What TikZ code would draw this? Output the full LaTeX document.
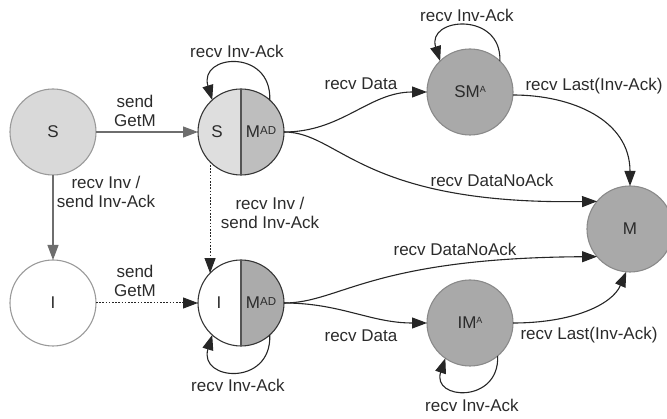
\documentclass[tikz,border=0pt]{standalone}
\usepackage{fontspec}
\setmainfont{Liberation Sans}
\usetikzlibrary{arrows.meta}
\definecolor{txt}{HTML}{2B2B2B}
\definecolor{sfill}{HTML}{D9D9D9}
\definecolor{lgb}{HTML}{9A9A9A}
\definecolor{smadl}{HTML}{DEDEDE}
\definecolor{smadr}{HTML}{BEBEBE}
\definecolor{imadr}{HTML}{ABABAB}
\definecolor{dk}{HTML}{363636}
\definecolor{gfill}{HTML}{A9A9A9}
\definecolor{gb}{HTML}{8A8A8A}
\definecolor{gline}{HTML}{6E6E6E}
\newcommand\supAD{\raisebox{3.5pt}{\fontsize{11.5}{12}\selectfont AD}}
\newcommand\supA{\raisebox{5pt}{\fontsize{9}{10}\selectfont A}}
\begin{document}
\begin{tikzpicture}[x=1pt,y=1pt,
  font=\fontsize{17}{19}\selectfont,
  st/.style={circle, minimum size=86pt, inner sep=0pt, outer sep=0pt, line width=1.1pt, text=txt},
  lbl/.style={text=txt, align=center, inner sep=0pt},
  arr/.style={-{Triangle[length=15pt,width=11pt]}, line width=1.1pt, draw=black!85},
  dot/.style={dash pattern=on 1.6pt off 1.6pt, line width=1pt}
  ]
\useasboundingbox (0,0) rectangle (667,-419);
% simple states
\node[st, draw=lgb, fill=sfill] (s) at (53,-132) {S};
\node[st, draw=lgb, fill=white] (i) at (53,-303) {I};
\node[st, draw=gb, fill=gfill] (sma) at (470,-92) {SM\supA};
\node[st, draw=gb, fill=gfill] (ima) at (470,-323) {IM\supA};
\node[st, draw=gb, fill=gfill] (m) at (630,-229) {M};
% split state S M^AD
\node[st] (smad) at (241,-132) {};
\begin{scope}
  \clip (smad.center) ++(-45,-45) rectangle ++(45,90);
  \fill[smadl] (smad.center) circle[radius=43];
\end{scope}
\begin{scope}
  \clip (smad.center) ++(0,-45) rectangle ++(45,90);
  \fill[smadr] (smad.center) circle[radius=43];
\end{scope}
\draw[dk, line width=1.1pt] (smad.center) circle[radius=43];
\draw[dk!85, line width=1.1pt] (smad.north) -- (smad.south);
\node[lbl] (smadS) at (217,-132) {S};
\node[lbl] (smadM) at (261,-132) {M\supAD};
% split state I M^AD
\node[st] (imad) at (241,-303) {};
\begin{scope}
  \clip (imad.center) ++(-45,-45) rectangle ++(45,90);
  \fill[white] (imad.center) circle[radius=43];
\end{scope}
\begin{scope}
  \clip (imad.center) ++(0,-45) rectangle ++(45,90);
  \fill[imadr] (imad.center) circle[radius=43];
\end{scope}
\draw[dk, line width=1.1pt] (imad.center) circle[radius=43];
\draw[dk!85, line width=1.1pt] (imad.north) -- (imad.south);
\node[lbl] (imadI) at (219,-303) {I};
\node[lbl] (imadM) at (261,-303) {M\supAD};
% straight transitions
\draw[arr, draw=gline] (s) -- (smad);
\draw[arr, draw=gline] (s) -- (i);
\draw[arr, dot] (i) -- (imad);
\draw[arr, dot] (smad.224) -- (imad.136);
% self loops
\draw[arr] (smad.48) .. controls +(2,52) and +(-14,46) .. (smad.132);
\draw[arr] (imad.-48) .. controls +(2,-52) and +(-14,-46) .. (imad.-132);
\draw[arr] (sma.46) .. controls +(2,50) and +(-14,44) .. (sma.134);
\draw[arr] (ima.-50) .. controls +(2,-48) and +(-14,-42) .. (ima.-125);
% curved transitions
\draw[arr] (smad.east) to[out=0,in=180] (sma.west);
\draw[arr] (smad.east) .. controls (340,-132) and (360,-205) .. (m.140);
\draw[arr] (sma.-4) .. controls (572,-95) and (630,-120) .. (m.north);
\draw[arr] (imad.east) .. controls (340,-303) and (370,-258) .. (m.220);
\draw[arr] (imad.east) to[out=0,in=180] (ima.west);
\draw[arr] (ima.east) .. controls (572,-323) and (612,-305) .. (m.265);
% labels
\node[lbl] (l1) at (135,-111) {send\\GetM};
\node[lbl] (l2) at (106,-192) {recv Inv /\\send Inv-Ack};
\node[lbl] (l3) at (135,-281) {send\\GetM};
\node[lbl] (l4) at (270,-213) {recv Inv /\\send Inv-Ack};
\node[lbl] (l5) at (237,-51) {recv Inv-Ack};
\node[lbl] (l6) at (361,-84) {recv Data};
\node[lbl] (l7) at (467,-15) {recv Inv-Ack};
\node[lbl] (l8) at (594,-86) {recv Last(Inv-Ack)};
\node[lbl] (l9) at (492,-180) {recv DataNoAck};
\node[lbl] (l10) at (455,-249) {recv DataNoAck};
\node[lbl] (l11) at (361,-336) {recv Data};
\node[lbl] (l12) at (589,-335) {recv Last(Inv-Ack)};
\node[lbl] (l13) at (472,-405) {recv Inv-Ack};
\node[lbl] (l14) at (238,-385) {recv Inv-Ack};
\end{tikzpicture}
\end{document}
